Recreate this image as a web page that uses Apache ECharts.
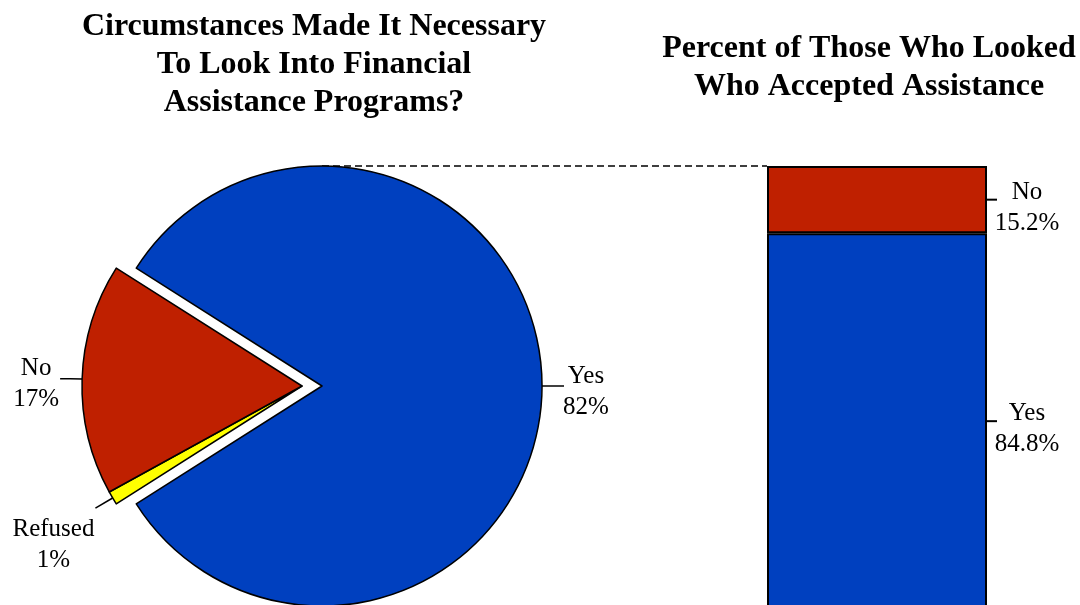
<!DOCTYPE html>
<html>
<head>
<meta charset="utf-8">
<script src="https://cdn.jsdelivr.net/npm/echarts@6/dist/echarts.min.js"></script>
<style>
  html, body { margin: 0; padding: 0; background: #fff; }
  #chart { width: 1080px; height: 605px; }
</style>
</head>
<body>
<div id="chart"></div>
<script>
// Pie: did circumstances make it necessary to look into assistance programs? (percent)
const pieNames = ['Yes', 'Refused', 'No'];
const pieValues = [82, 1, 17];
const pieColors = ['#0040BF', '#FFFF00', '#BF2000'];

// Stacked bar: of those who looked, share who accepted assistance (percent)
const barNames = ['Yes', 'No'];
const barValues = [84.8, 15.2];
const barColors = ['#0040BF', '#BF2000'];
const barCategory = ['Looked'];

const titleLeft = 'Circumstances Made It Necessary\nTo Look Into Financial\nAssistance Programs?';
const titleRight = 'Percent of Those Who Looked\nWho Accepted Assistance';

// Layout
const FONT = "'Liberation Serif', 'Times New Roman', serif";
const PIE_R = 220;
const PIE_CENTER = [322, 386];
const EXPLODE = 20;                       // pulled-out wedge shift to the left
// the bar runs past the bottom edge of the page
const BAR_BOX = { left: 767, top: 166, width: 220, height: 443 };

const total = pieValues.reduce((a, b) => a + b, 0);
// centre the main "Yes" wedge on the 3 o'clock direction
const startAngle = 180 - (1 - pieValues[0] / total) * 180;

// where each pie label sits relative to the end of its leader line
const pieLabelShift = {
  Yes: [22, 6],
  No: [-24, 5],
  Refused: [-42, 37]
};

const hidden = {
  itemStyle: { color: 'rgba(0,0,0,0)', borderWidth: 0 },
  label: { show: false },
  labelLine: { show: false }
};

const labelText = {
  fontFamily: FONT, fontSize: 25, lineHeight: 31, color: '#000'
};

function pieItem(i, visible) {
  const base = { name: pieNames[i], value: pieValues[i] };
  if (!visible) return Object.assign(base, hidden);
  const item = Object.assign(base, {
    itemStyle: { color: pieColors[i], borderColor: '#000', borderWidth: 1.5 }
  });
  if (pieNames[i] === 'Refused') {
    item.labelLine = { length: 20, length2: 0 };
  }
  return item;
}

function pieSeries(center, showMain) {
  return {
    type: 'pie',
    center: center,
    radius: [0, PIE_R],
    startAngle: startAngle,
    clockwise: true,
    avoidLabelOverlap: false,
    silent: true,
    animation: false,
    label: Object.assign({
      show: true,
      position: 'outside',
      formatter: p => p.name + '\n' + p.value + '%'
    }, labelText),
    labelLine: {
      show: true, length: 12, length2: 10, smooth: false,
      lineStyle: { color: '#000', width: 1.5 }
    },
    labelLayout: function (params) {
      const shift = pieLabelShift[pieNames[params.dataIndex]];
      const pts = params.labelLinePoints;
      if (!shift || !pts) return {};
      const end = pts[pts.length - 1];
      return {
        x: end[0] + shift[0], y: end[1] + shift[1],
        align: 'center', verticalAlign: 'middle',
        labelLinePoints: pts
      };
    },
    data: pieNames.map((n, i) => pieItem(i, showMain ? i === 0 : i !== 0))
  };
}

// bar segment midpoints for the label tick marks
const tickData = [];
let acc = 0;
barValues.forEach(v => { tickData.push([0, acc + v / 2]); acc += v; });

const chart = echarts.init(document.getElementById('chart'), null, { renderer: 'canvas' });

const option = {
  backgroundColor: '#fff',
  animation: false,
  title: [
    {
      text: titleLeft, left: 314, top: 8, padding: 0, textAlign: 'center',
      textStyle: { fontFamily: FONT, fontSize: 32, fontWeight: 'bold', lineHeight: 38, color: '#000' }
    },
    {
      text: titleRight, left: 869, top: 30, padding: 0, textAlign: 'center',
      textStyle: { fontFamily: FONT, fontSize: 32, fontWeight: 'bold', lineHeight: 38, color: '#000' }
    }
  ],
  grid: {
    left: BAR_BOX.left, top: BAR_BOX.top, width: BAR_BOX.width, height: BAR_BOX.height,
    outerBoundsMode: 'none', containLabel: false
  },
  xAxis: { type: 'category', data: barCategory, show: false },
  yAxis: { type: 'value', min: 0, max: 100, show: false },
  series: [
    pieSeries(PIE_CENTER, true),
    pieSeries([PIE_CENTER[0] - EXPLODE, PIE_CENTER[1]], false)
  ].concat(barNames.map((n, i) => ({
    type: 'bar',
    name: n,
    stack: 'accepted',
    data: [barValues[i]],
    barWidth: '100%',
    silent: true,
    itemStyle: { color: barColors[i], borderColor: '#000', borderWidth: 2 },
    label: Object.assign({
      show: true,
      position: 'right',
      distance: 40,
      align: 'center',
      offset: [0, 8],
      formatter: n + '\n' + barValues[i] + '%'
    }, labelText)
  }))).concat([{
    type: 'custom',
    silent: true,
    z: 5,
    data: tickData,
    renderItem: function (params, api) {
      const p = api.coord([api.value(0), api.value(1)]);
      const half = api.size([1, 0])[0] / 2;
      return {
        type: 'line',
        shape: { x1: p[0] + half, y1: p[1], x2: p[0] + half + 10, y2: p[1] },
        style: { stroke: '#000', lineWidth: 2 }
      };
    }
  }]),
  graphic: [{
    // dashed connector from top of the pie to the top of the bar
    type: 'line',
    silent: true,
    shape: {
      x1: PIE_CENTER[0], y1: PIE_CENTER[1] - PIE_R,
      x2: BAR_BOX.left, y2: BAR_BOX.top
    },
    style: { stroke: '#000', lineWidth: 1.5, lineDash: [7, 4] }
  }]
};

chart.setOption(option);
</script>
</body>
</html>
